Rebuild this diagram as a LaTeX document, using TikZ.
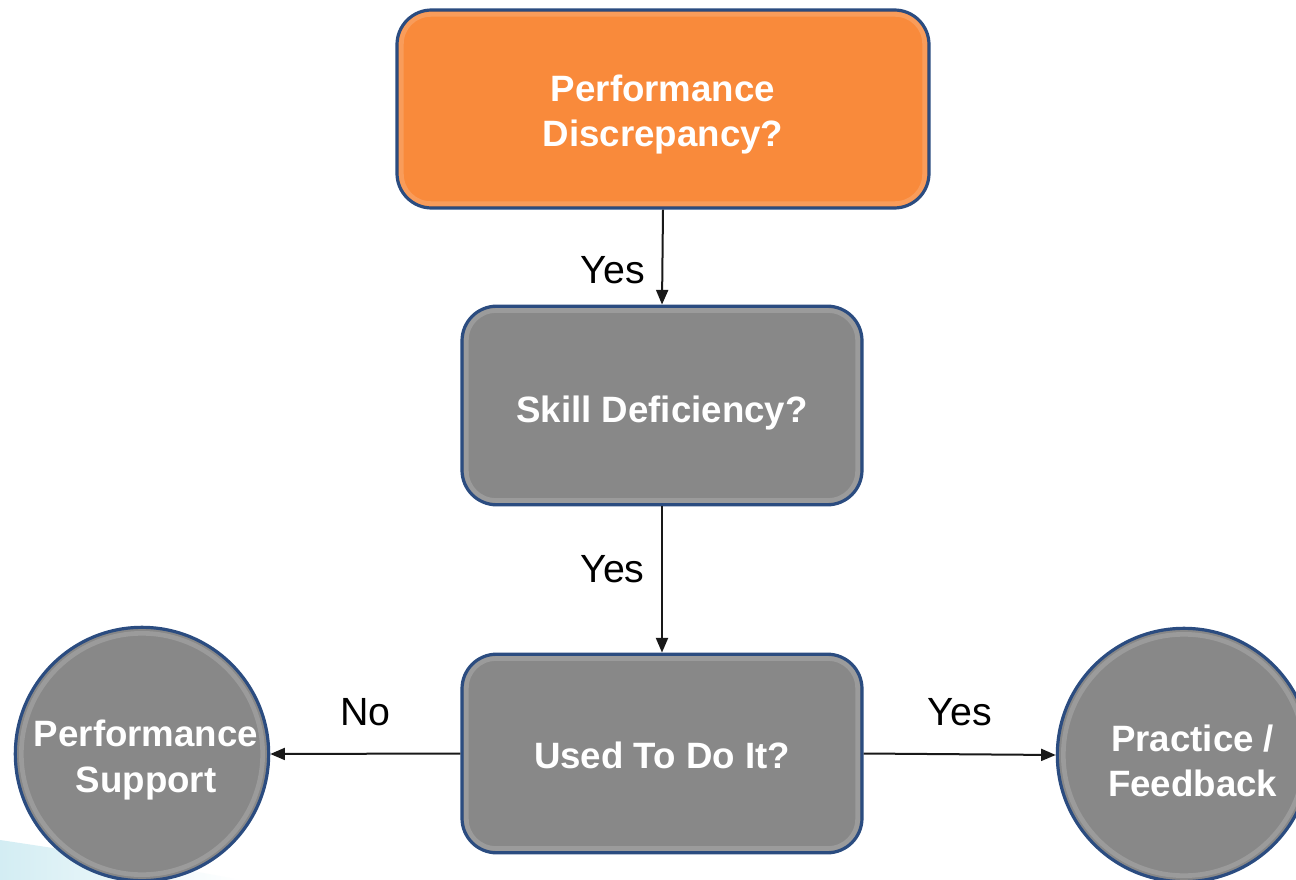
\documentclass[tikz,border=0pt]{standalone}
\usepackage{fontspec}
\setmainfont{Liberation Sans}
\usetikzlibrary{arrows.meta}
\definecolor{boxorange}{HTML}{F98A3B}
\definecolor{boxgray}{HTML}{888888}
\definecolor{rimblue}{HTML}{2B4C80}
\definecolor{swoosh}{HTML}{D3EDF3}
\tikzset{
  base/.style={draw=rimblue, line width=2.4pt, inner sep=0pt},
  txt/.style={text=white, align=center, inner sep=0pt,
    font=\fontsize{27.5}{34}\selectfont\bfseries},
  procbox/.style={base, rectangle, rounded corners=26pt, fill=boxgray,
    minimum width=300pt, minimum height=149pt},
  topbox/.style={procbox, fill=boxorange, minimum width=399pt, minimum height=148.5pt},
  endcircle/.style={base, circle, fill=boxgray, minimum size=190pt},
  bevel/.style={line width=3.5pt, draw=white, draw opacity=0.16},
  flow/.style={line width=1.5pt, -{Triangle[length=11pt,width=9pt]}, black!90},
  lab/.style={font=\fontsize{29.5}{34}\selectfont, text=black}
}
\begin{document}
\begin{tikzpicture}[x=0.75pt,y=-0.75pt]
\useasboundingbox (0,0) rectangle (1296,880);
\clip (0,0) rectangle (1296,880);
\fill[white] (0,0) rectangle (1296,880);
\shade[left color=swoosh, right color=white] (0,840) .. controls (80,852) and (170,866) .. (240,880) -- (0,880) -- cycle;
\node[topbox, label={[txt, yshift=-4pt]center:Performance\\Discrepancy?}] (pd) at (663,109) {};
\node[procbox, label={[txt, yshift=-5.5pt]center:Skill Deficiency?}] (sd) at (662,405.5) {};
\node[procbox, label={[txt, yshift=-1.5pt]center:Used To Do It?}] (ud) at (662,753.5) {};
\node[endcircle, label={[txt, xshift=3pt, yshift=-4.5pt]center:Performance\\Support}] (ps) at (142,754) {};
\node[endcircle, label={[txt, xshift=6.5pt, yshift=-4.5pt]center:Practice /\\Feedback}] (pf) at (1184,755) {};
% soft bevel highlights
\draw[bevel, rounded corners=22pt] ([shift={(4.5pt,-4.5pt)}]pd.north west) rectangle ([shift={(-4.5pt,4.5pt)}]pd.south east);
\draw[bevel, rounded corners=22pt] ([shift={(4.5pt,-4.5pt)}]sd.north west) rectangle ([shift={(-4.5pt,4.5pt)}]sd.south east);
\draw[bevel, rounded corners=22pt] ([shift={(4.5pt,-4.5pt)}]ud.north west) rectangle ([shift={(-4.5pt,4.5pt)}]ud.south east);
\draw[bevel] (ps.center) circle[radius=90.5pt];
\draw[bevel] (pf.center) circle[radius=90.5pt];
\draw[flow] (pd.south) -- (sd.north) node[lab, midway, left=9pt, yshift=-10pt] {Yes};
\draw[flow] (sd.south) -- (ud.north) node[lab, midway, left=9pt, yshift=8pt] {Yes};
\draw[flow] (ud.west) -- (ps.east) node[lab, midway, above=17pt] {No};
\draw[flow] (ud.east) -- (pf.west) node[lab, midway, above=17pt] {Yes};
\end{tikzpicture}
\end{document}
